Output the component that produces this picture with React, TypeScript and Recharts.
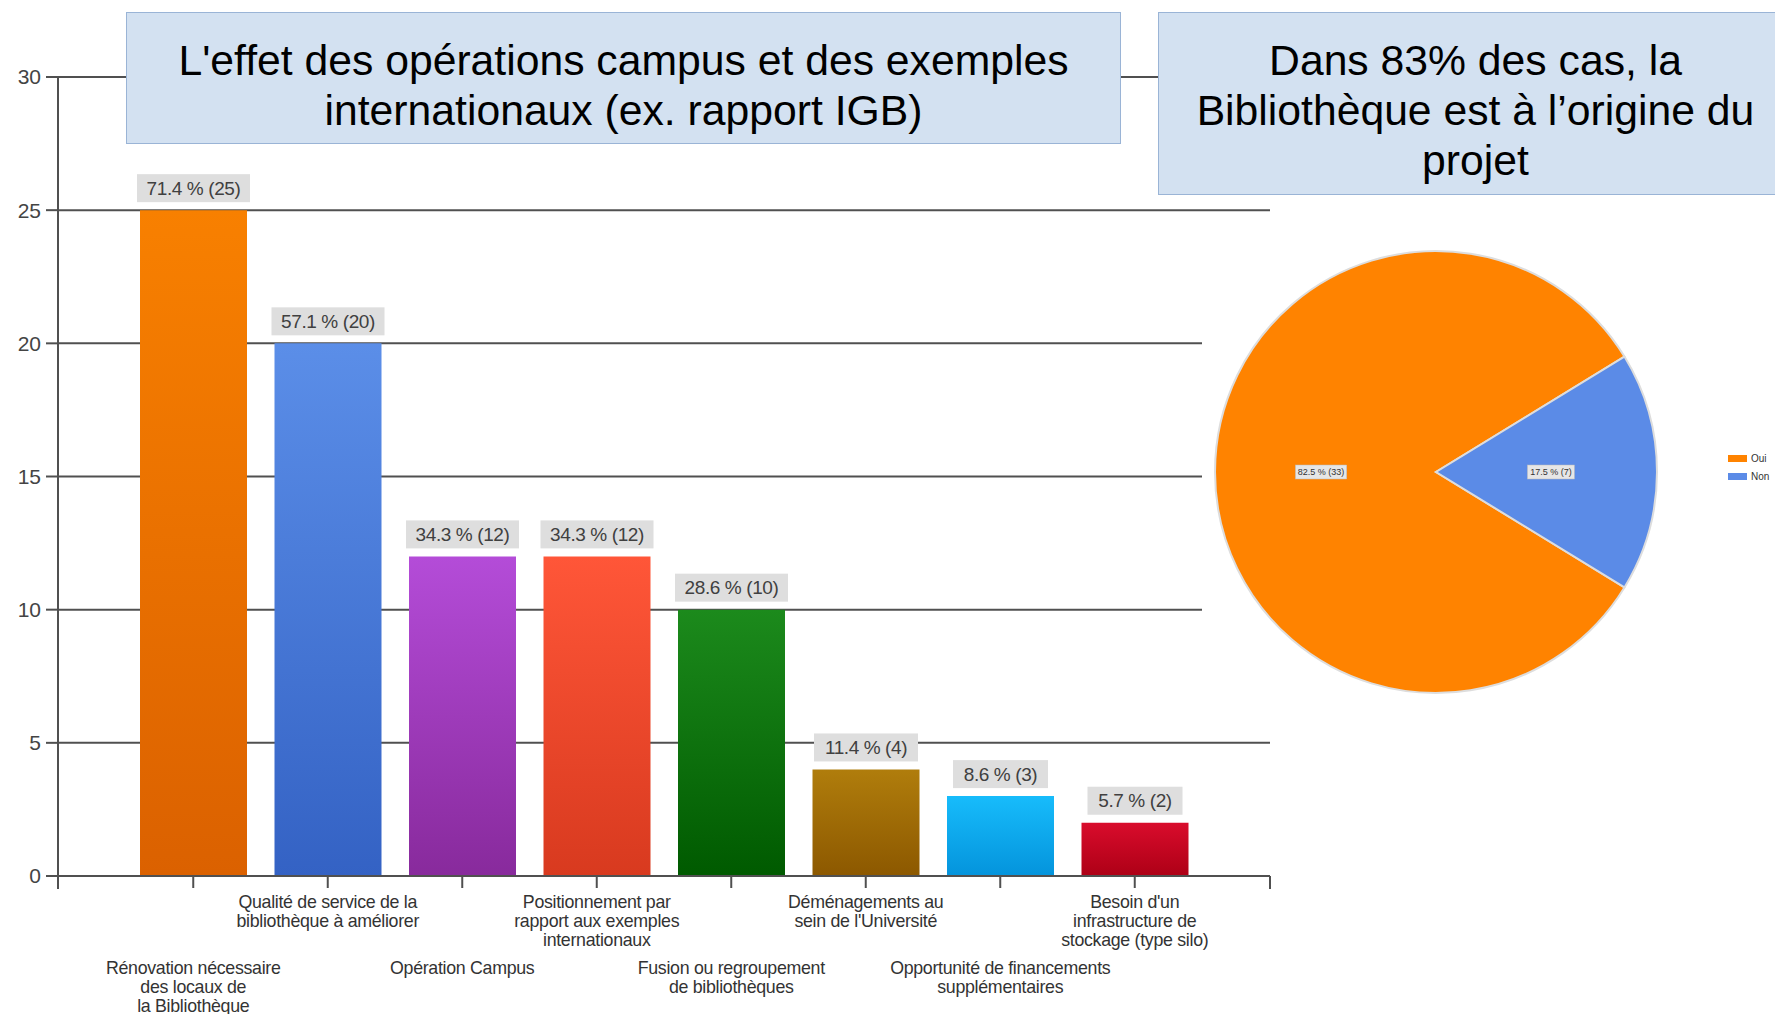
import React from 'react';
import { BarChart, Bar, XAxis, YAxis, CartesianGrid, Cell, LabelList, PieChart, Pie, Legend } from 'recharts';

// bar chart data
const categoryLines = [
  ['Rénovation nécessaire', 'des locaux de', 'la Bibliothèque'],
  ['Qualité de service de la', 'bibliothèque à améliorer'],
  ['Opération Campus'],
  ['Positionnement par', 'rapport aux exemples', 'internationaux'],
  ['Fusion ou regroupement', 'de bibliothèques'],
  ['Déménagements au', "sein de l'Université"],
  ['Opportunité de financements', 'supplémentaires'],
  ["Besoin d'un", 'infrastructure de', 'stockage (type silo)'],
];
const categories = categoryLines.map((l) => l.join(' '));
const counts = [25, 20, 12, 12, 10, 4, 3, 2];
const percents = ['71.4', '57.1', '34.3', '34.3', '28.6', '11.4', '8.6', '5.7'];
const yTicks = [0, 5, 10, 15, 20, 25, 30];

const barTop = ['#F88000', '#5B8EE8', '#B44CD8', '#FF5638', '#1C8A1C', '#B07D0C', '#17BCFB', '#D90C2C'];
const barBottom = ['#DB6100', '#3462C4', '#882A9C', '#D83A1F', '#005A00', '#8C5800', '#0494DC', '#AD0016'];

// pie data
const pieNames = ['Oui', 'Non'];
const pieCounts = [33, 7];
const piePercents = ['82.5', '17.5'];
const pieColors = ['#FF8300', '#5B8BE7'];

const titleLeft = ["L'effet des opérations campus et des exemples", 'internationaux (ex. rapport IGB)'];
const titleRight = ['Dans 83% des cas, la', 'Bibliothèque est à l’origine du', 'projet'];

const barData = categories.map((name, i) => ({ name, count: counts[i], pct: percents[i] }));
const pieData = pieNames.map((name, i) => ({ name, value: pieCounts[i], pct: piePercents[i] }));

const narrow = '"Liberation Sans Narrow", "Liberation Sans", Arial, sans-serif';
const sans = '"Liberation Sans", Arial, sans-serif';

const CategoryTick = (props: any) => {
  const { x, y, payload } = props;
  const idx = categories.indexOf(payload.value);
  const lines = categoryLines[idx] || [];
  const base = idx % 2 === 0 ? 80 : 14;
  return (
    <g>
      {lines.map((line, k) => (
        <text
          key={k}
          x={x}
          y={y + base + k * 19}
          textAnchor="middle"
          dominantBaseline="central"
          fontSize={17.8}
          letterSpacing={-0.3}
          fontFamily={sans}
          fill="#333"
        >
          {line}
        </text>
      ))}
    </g>
  );
};

const BarValueLabel = (props: any) => {
  const { x, y, width, index } = props;
  const text = `${percents[index]} % (${counts[index]})`;
  const w = text.length * 9 + 14;
  const cx = x + width / 2;
  return (
    <g>
      <rect x={cx - w / 2} y={y - 36} width={w} height={28} fill="#DEDEDE" />
      <text x={cx} y={y - 22} textAnchor="middle" dominantBaseline="central" fontSize={19} fontFamily={narrow} fill="#404040" letterSpacing={-0.4}>
        {text}
      </text>
    </g>
  );
};

const renderPieLabel = (props: any) => {
  const { cx, cy, midAngle, outerRadius, index } = props;
  const RAD = Math.PI / 180;
  const r = outerRadius * 0.52;
  const lx = cx + r * Math.cos(-midAngle * RAD);
  const ly = cy + r * Math.sin(-midAngle * RAD);
  const text = `${piePercents[index]} % (${pieCounts[index]})`;
  const w = text.length * 4.3 + 4;
  return (
    <g>
      <rect x={lx - w / 2} y={ly - 7} width={w} height={14} fill="#E6E6E6" stroke="#BBB" strokeWidth={0.5} />
      <text x={lx} y={ly} textAnchor="middle" dominantBaseline="central" fontSize={9} fontFamily={narrow} fill="#333">
        {text}
      </text>
    </g>
  );
};

const renderLegend = () => (
  <div style={{ fontFamily: narrow, fontSize: 10, color: '#333' }}>
    {pieNames.map((n, i) => (
      <div key={n} style={{ display: 'flex', alignItems: 'center', height: 18 }}>
        <span style={{ display: 'inline-block', width: 19, height: 7, background: pieColors[i], marginRight: 4 }} />
        {n}
      </div>
    ))}
  </div>
);

const boxStyle: React.CSSProperties = {
  position: 'absolute',
  background: '#D3E1F1',
  border: '1.5px solid #9AB4D6',
  boxSizing: 'border-box',
  fontFamily: sans,
  fontSize: 42.7,
  lineHeight: '50px',
  color: '#000',
  textAlign: 'center',
  whiteSpace: 'nowrap',
};

const axisTick: React.CSSProperties = { position: 'absolute', top: 876, width: 2, height: 13, background: '#505050' };

export default function App() {
  return (
    <div style={{ position: 'absolute', left: 0, top: 0, width: 1775, height: 1014, overflow: 'hidden', background: '#fff' }}>
      <div style={{ position: 'absolute', left: 0, top: 0 }}>
        <BarChart
          width={1300}
          height={1014}
          data={barData}
          margin={{ top: 77, right: 30, bottom: 0, left: 8 }}
          style={{ fontFamily: narrow }}
        >
          <defs>
            {barTop.map((c, i) => (
              <linearGradient key={i} id={`barGrad${i}`} x1="0" y1="0" x2="0" y2="1">
                <stop offset="0%" stopColor={c} />
                <stop offset="100%" stopColor={barBottom[i]} />
              </linearGradient>
            ))}
          </defs>
          <CartesianGrid vertical={false} stroke="#505050" strokeWidth={2} />
          <XAxis
            dataKey="name"
            interval={0}
            height={138}
            padding={{ left: 68, right: 68 }}
            axisLine={{ stroke: '#505050', strokeWidth: 2 }}
            tickLine={{ stroke: '#505050', strokeWidth: 2 }}
            tickSize={12}
            tickMargin={0}
            tick={<CategoryTick />}
          />
          <YAxis
            domain={[0, 30]}
            ticks={yTicks}
            width={50}
            axisLine={{ stroke: '#505050', strokeWidth: 2 }}
            tickLine={{ stroke: '#505050', strokeWidth: 2 }}
            tickSize={12}
            tickMargin={5}
            tick={{ fontSize: 21, fill: '#444', fontFamily: narrow }}
          />
          <Bar dataKey="count" barSize={107} isAnimationActive={false}>
            {barData.map((_, i) => (
              <Cell key={i} fill={`url(#barGrad${i})`} />
            ))}
            <LabelList dataKey="count" content={<BarValueLabel />} />
          </Bar>
        </BarChart>
      </div>
      <div style={{ ...axisTick, left: 57 }} />
      <div style={{ ...axisTick, left: 1269 }} />

      <div style={{ position: 'absolute', left: 1202, top: 215, width: 573, height: 525, background: '#fff' }}>
        <PieChart width={573} height={525}>
          <Pie
            data={pieData}
            dataKey="value"
            nameKey="name"
            cx={229}
            cy={252}
            outerRadius={221}
            startAngle={31.5}
            endAngle={391.5}
            stroke="#DDDDDD"
            strokeWidth={2}
            label={renderPieLabel}
            labelLine={false}
            isAnimationActive={false}
          >
            {pieData.map((_, i) => (
              <Cell key={i} fill={pieColors[i]} />
            ))}
          </Pie>
          <Legend content={renderLegend} wrapperStyle={{ position: 'absolute', left: 526, top: 234, width: 47 }} />
        </PieChart>
      </div>

      <div style={{ ...boxStyle, left: 126, top: 12, width: 995, height: 132, paddingTop: 22 }}>
        {titleLeft.map((t) => (
          <div key={t}>{t}</div>
        ))}
      </div>
      <div style={{ ...boxStyle, left: 1158, top: 12, width: 634, height: 183, paddingTop: 22, borderRight: 'none' }}>
        {titleRight.map((t) => (
          <div key={t}>{t}</div>
        ))}
      </div>
    </div>
  );
}
